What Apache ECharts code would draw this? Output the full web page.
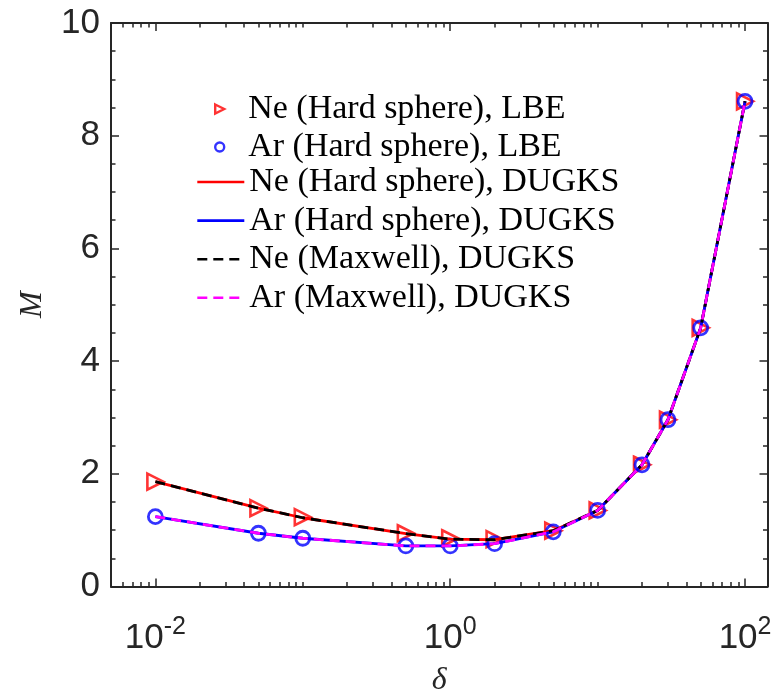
<!DOCTYPE html>
<html>
<head>
<meta charset="utf-8">
<script src="https://cdn.jsdelivr.net/npm/echarts@6/dist/echarts.min.js"></script>
<style>
html,body{margin:0;padding:0;background:#fff;}
#chart{width:776px;height:691px;}
</style>
</head>
<body>
<div id="chart"></div>
<script>
// ---- data ----
const deltas = [0.01, 0.05, 0.1, 0.5, 1, 2, 5, 10, 20, 30, 50, 100];
const neHardSphereLBE   = [1.86, 1.39, 1.23, 0.945, 0.856, 0.84, 0.99, 1.35, 2.16, 2.96, 4.59, 8.61];
const arHardSphereLBE   = [1.24, 0.945, 0.856, 0.72, 0.72, 0.76, 0.97, 1.35, 2.16, 2.96, 4.59, 8.61];
const neHardSphereDUGKS = [1.86, 1.39, 1.22, 0.94, 0.84, 0.83, 0.99, 1.35, 2.16, 2.96, 4.59, 8.61];
const arHardSphereDUGKS = [1.24, 0.945, 0.856, 0.72, 0.72, 0.76, 0.97, 1.35, 2.16, 2.96, 4.59, 8.61];
const neMaxwellDUGKS    = [1.86, 1.39, 1.22, 0.94, 0.84, 0.83, 0.99, 1.35, 2.16, 2.96, 4.59, 8.61];
const arMaxwellDUGKS    = [1.24, 0.945, 0.856, 0.72, 0.72, 0.76, 0.97, 1.35, 2.16, 2.96, 4.59, 8.61];

const seriesNames = [
  'Ne (Hard sphere), LBE',
  'Ar (Hard sphere), LBE',
  'Ne (Hard sphere), DUGKS',
  'Ar (Hard sphere), DUGKS',
  'Ne (Maxwell), DUGKS',
  'Ar (Maxwell), DUGKS'
];

const xLabelValues = [0.01, 1, 100];
const xLabelExponents = ['-2', '0', '2'];
const xMajorTicks = [0.01, 1, 100];
const xMinorTicks = [0.006,0.007,0.008,0.009,
  0.02,0.03,0.04,0.05,0.06,0.07,0.08,0.09,0.1,
  0.2,0.3,0.4,0.5,0.6,0.7,0.8,0.9,
  2,3,4,5,6,7,8,9,10,
  20,30,40,50,60,70,80,90];
const xMin = 0.005, xMax = 142;
const yTicks = [0, 2, 4, 6, 8, 10];

// ---- chart ----
const AX = '#262626';
const chart = echarts.init(document.getElementById('chart'), null, {renderer: 'canvas'});
const pairs = arr => deltas.map((d, i) => [d, arr[i]]);

function xAxisBase(extra) {
  return Object.assign({
    type: 'log', logBase: 10, min: xMin, max: xMax, gridIndex: 0,
    splitLine: {show: false}, minorTick: {show: false}, minorSplitLine: {show: false}
  }, extra);
}

const supRich = {
  b: {fontFamily: 'Liberation Sans', fontSize: 35, color: AX, verticalAlign: 'bottom', lineHeight: 44},
  s: {fontFamily: 'Liberation Sans', fontSize: 25, color: AX, verticalAlign: 'bottom', lineHeight: 44, padding: [0, 0, 16, 0]}
};

const legendText = {fontFamily: 'Liberation Serif', fontSize: 34, color: '#000', lineHeight: 30};

const option = {
  backgroundColor: '#fff',
  animation: false,
  grid: {left: 111, right: 8.5, top: 23, bottom: 104.5, containLabel: false, outerBoundsMode: 'none'},
  xAxis: [
    xAxisBase({
      position: 'bottom',
      axisLine: {show: true, lineStyle: {color: AX, width: 2}},
      axisTick: {show: true, inside: true, length: 8, customValues: xMajorTicks, lineStyle: {color: AX, width: 1.5}},
      axisLabel: {
        show: true, customValues: xLabelValues, margin: 25,
        formatter: v => {
          const i = xLabelValues.findIndex(t => Math.abs(Math.log10(t) - Math.log10(v)) < 1e-6);
          return '{b|10}{s|' + (i >= 0 ? xLabelExponents[i] : '') + '}';
        },
        rich: supRich
      },
      name: 'δ', nameLocation: 'middle', nameGap: 78,
      nameTextStyle: {fontFamily: 'Liberation Serif', fontStyle: 'italic', fontSize: 32, color: AX, verticalAlign: 'top'}
    }),
    xAxisBase({
      position: 'bottom',
      axisLine: {show: false},
      axisTick: {show: true, inside: true, length: 4.5, customValues: xMinorTicks, lineStyle: {color: AX, width: 1.5}},
      axisLabel: {show: false}
    }),
    xAxisBase({
      position: 'top',
      axisLine: {show: true, lineStyle: {color: AX, width: 2}},
      axisTick: {show: true, inside: true, length: 8, customValues: xMajorTicks, lineStyle: {color: AX, width: 1.5}},
      axisLabel: {show: false}
    }),
    xAxisBase({
      position: 'top',
      axisLine: {show: false},
      axisTick: {show: true, inside: true, length: 4.5, customValues: xMinorTicks, lineStyle: {color: AX, width: 1.5}},
      axisLabel: {show: false}
    })
  ],
  yAxis: [
    {
      type: 'value', position: 'left', min: 0, max: 10, interval: 2,
      axisLine: {show: true, lineStyle: {color: AX, width: 2}},
      axisTick: {show: true, inside: true, length: 8, lineStyle: {color: AX, width: 1.5}},
      minorTick: {show: true, splitNumber: 4, length: 4.5, lineStyle: {color: AX, width: 1.5}},
      splitLine: {show: false},
      axisLabel: {
        show: true, margin: 11, fontFamily: 'Liberation Sans', fontSize: 35, color: AX,
        customValues: yTicks, formatter: v => String(v)
      },
      name: 'M', nameLocation: 'middle', nameGap: 62, nameRotate: 90,
      nameTextStyle: {fontFamily: 'Liberation Serif', fontStyle: 'italic', fontSize: 32, color: AX}
    },
    {
      type: 'value', position: 'right', min: 0, max: 10, interval: 2,
      axisLine: {show: true, lineStyle: {color: AX, width: 2}},
      axisTick: {show: true, inside: true, length: 8, lineStyle: {color: AX, width: 1.5}},
      minorTick: {show: true, splitNumber: 4, length: 4.5, lineStyle: {color: AX, width: 1.5}},
      splitLine: {show: false},
      axisLabel: {show: false}
    }
  ],
  legend: [
    {
      data: [seriesNames[0], seriesNames[1]],
      orient: 'vertical', left: 214, top: 92, padding: 0,
      itemWidth: 47, itemHeight: 9, itemGap: 4, selectedMode: false,
      itemStyle: {borderWidth: 2.4},
      textStyle: legendText
    },
    {
      data: [seriesNames[2], seriesNames[3], seriesNames[4], seriesNames[5]],
      orient: 'vertical', left: 196, top: 165, padding: 0,
      itemWidth: 47, itemHeight: 14, itemGap: 4.6, selectedMode: false,
      itemStyle: {opacity: 0},
      lineStyle: {width: 2.6, opacity: 1},
      textStyle: legendText
    }
  ],
  series: [
    {
      name: seriesNames[0], type: 'scatter', xAxisIndex: 0, yAxisIndex: 0,
      data: pairs(neHardSphereLBE),
      symbol: 'path://M0,0L10,5L0,10Z', symbolSize: 16, z: 2,
      itemStyle: {color: 'transparent', borderColor: '#ff0000', borderWidth: 2.6}
    },
    {
      name: seriesNames[1], type: 'scatter', xAxisIndex: 0, yAxisIndex: 0,
      data: pairs(arHardSphereLBE),
      symbol: 'circle', symbolSize: 14, z: 2,
      itemStyle: {color: 'transparent', borderColor: '#0000ff', borderWidth: 2.8}
    },
    {
      name: seriesNames[2], type: 'line', xAxisIndex: 0, yAxisIndex: 0,
      data: pairs(neHardSphereDUGKS), symbol: 'none', z: 3,
      itemStyle: {color: '#ff0000'},
      lineStyle: {color: '#ff0000', width: 2.8, type: 'solid'}
    },
    {
      name: seriesNames[3], type: 'line', xAxisIndex: 0, yAxisIndex: 0,
      data: pairs(arHardSphereDUGKS), symbol: 'none', z: 3,
      itemStyle: {color: '#0000ff'},
      lineStyle: {color: '#0000ff', width: 2.8, type: 'solid'}
    },
    {
      name: seriesNames[4], type: 'line', xAxisIndex: 0, yAxisIndex: 0,
      data: pairs(neMaxwellDUGKS), symbol: 'none', z: 4,
      itemStyle: {color: '#000000'},
      lineStyle: {color: '#000000', width: 2.8, type: [10, 6]}
    },
    {
      name: seriesNames[5], type: 'line', xAxisIndex: 0, yAxisIndex: 0,
      data: pairs(arMaxwellDUGKS), symbol: 'none', z: 4,
      itemStyle: {color: '#ff00ff'},
      lineStyle: {color: '#ff00ff', width: 2.8, type: [10, 6]}
    }
  ]
};
chart.setOption(option);
</script>
</body>
</html>
